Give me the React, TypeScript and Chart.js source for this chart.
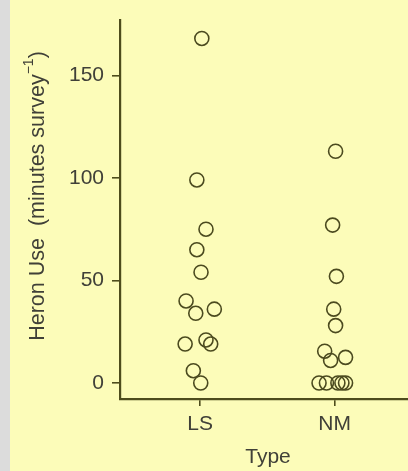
import React, { useEffect, useRef } from "react";
import { Chart, registerables } from "chart.js";

Chart.register(...registerables);

const categories = ["LS", "NM"];
const yTicks = [0, 50, 100, 150];
const lsValues = [168, 99, 75, 65, 54, 40, 34, 36, 21, 19, 19, 6, 0];
const lsJitter = [0.013, -0.024, 0.044, -0.024, 0.007, -0.104, -0.032, 0.106, 0.044, -0.111, 0.079, -0.05, 0.005];
const nmValues = [113, 77, 52, 36, 28, 15.5, 11, 12.5, 0, 0, 0, 0, 0];
const nmJitter = [0.007, -0.015, 0.013, -0.007, 0.007, -0.074, -0.03, 0.081, -0.116, -0.061, 0.024, 0.054, 0.081];

const AXIS = "#4d4c1c";
const TEXT = "#404038";
const MARK = "#4b4a1f";
const FONT = "'Liberation Sans', Arial, sans-serif";

const bgPlugin = {
  id: "bg",
  beforeDraw(chart: any) {
    const { ctx, width, height } = chart;
    ctx.save();
    ctx.fillStyle = "#dcdcdc";
    ctx.fillRect(0, 0, width, height);
    ctx.fillStyle = "#fcfcb9";
    ctx.fillRect(10, 0, width - 10, height);
    ctx.restore();
  },
};

const titlePlugin = {
  id: "titles",
  afterDraw(chart: any) {
    const { ctx } = chart;
    ctx.save();
    ctx.fillStyle = TEXT;
    ctx.font = `21px ${FONT}`;
    ctx.textAlign = "center";
    ctx.textBaseline = "middle";
    ctx.fillText("Type", 268, 457);
    const main = "Heron Use  (minutes survey";
    const sup = "\u22121";
    const close = ")";
    const mainFont = `21.5px ${FONT}`;
    const supFont = `14px ${FONT}`;
    ctx.font = mainFont;
    const w1 = ctx.measureText(main).width;
    const w3 = ctx.measureText(close).width;
    ctx.font = supFont;
    const w2 = ctx.measureText(sup).width;
    const total = w1 + w2 + w3;
    ctx.translate(38, 196);
    ctx.rotate(-Math.PI / 2);
    ctx.textAlign = "left";
    ctx.textBaseline = "middle";
    let x = -total / 2;
    ctx.font = mainFont;
    ctx.fillText(main, x, 0);
    x += w1;
    ctx.font = supFont;
    ctx.fillText(sup, x, -9);
    x += w2;
    ctx.font = mainFont;
    ctx.fillText(close, x, 0);
    ctx.restore();
  },
};

export default function App() {
  const ref = useRef<HTMLCanvasElement>(null);
  useEffect(() => {
    document.body.style.margin = "0";
    const ls = lsValues.map((v, i) => ({ x: 1 + lsJitter[i], y: v }));
    const nm = nmValues.map((v, i) => ({ x: 2 + nmJitter[i], y: v }));
    const pointStyle = {
      pointStyle: "circle",
      pointRadius: 7,
      pointBorderWidth: 1.6,
      pointBackgroundColor: "rgba(0,0,0,0)",
      pointBorderColor: MARK,
      showLine: false,
    };
    const chart = new Chart(ref.current!, {
      type: "scatter",
      data: {
        datasets: [
          { label: categories[0], data: ls, ...pointStyle } as any,
          { label: categories[1], data: nm, ...pointStyle } as any,
        ],
      },
      plugins: [bgPlugin, titlePlugin],
      options: {
        animation: false,
        responsive: false,
        layout: { autoPadding: false, padding: { top: 20, right: 0, left: 0, bottom: 0 } },
        plugins: { legend: { display: false }, tooltip: { enabled: false } },
        scales: {
          x: {
            type: "linear",
            min: 0.405,
            max: 2.545,
            afterBuildTicks: (s: any) => {
              s.ticks = categories.map((_, i) => ({ value: i + 1 }));
            },
            afterFit: (s: any) => {
              s.height = 72;
              s.paddingLeft = 0;
              s.paddingRight = 0;
            },
            ticks: {
              color: TEXT,
              font: { size: 21, family: FONT },
              padding: 6,
              callback: (v: any) => categories[Math.round(v) - 1],
            },
            grid: { drawOnChartArea: false, drawTicks: true, tickLength: 7, color: AXIS, lineWidth: 1.6 },
            border: { display: true, color: AXIS, width: 2.2 },
          },
          y: {
            type: "linear",
            min: -7.8,
            max: 177,
            afterBuildTicks: (s: any) => {
              s.ticks = yTicks.map((v) => ({ value: v }));
            },
            afterFit: (s: any) => {
              s.width = 120;
              s.paddingTop = 0;
              s.paddingBottom = 0;
            },
            ticks: {
              color: TEXT,
              font: { size: 21, family: FONT },
              padding: 8,
            },
            grid: { drawOnChartArea: false, drawTicks: true, tickLength: 8, color: AXIS, lineWidth: 1.6 },
            border: { display: true, color: AXIS, width: 2.2 },
          },
        },
      },
    });
    return () => chart.destroy();
  }, []);
  return (
    <div style={{ position: "absolute", left: 0, top: 0, width: 408, height: 471, overflow: "hidden" }}>
      <canvas ref={ref} width={408} height={471} />
    </div>
  );
}
